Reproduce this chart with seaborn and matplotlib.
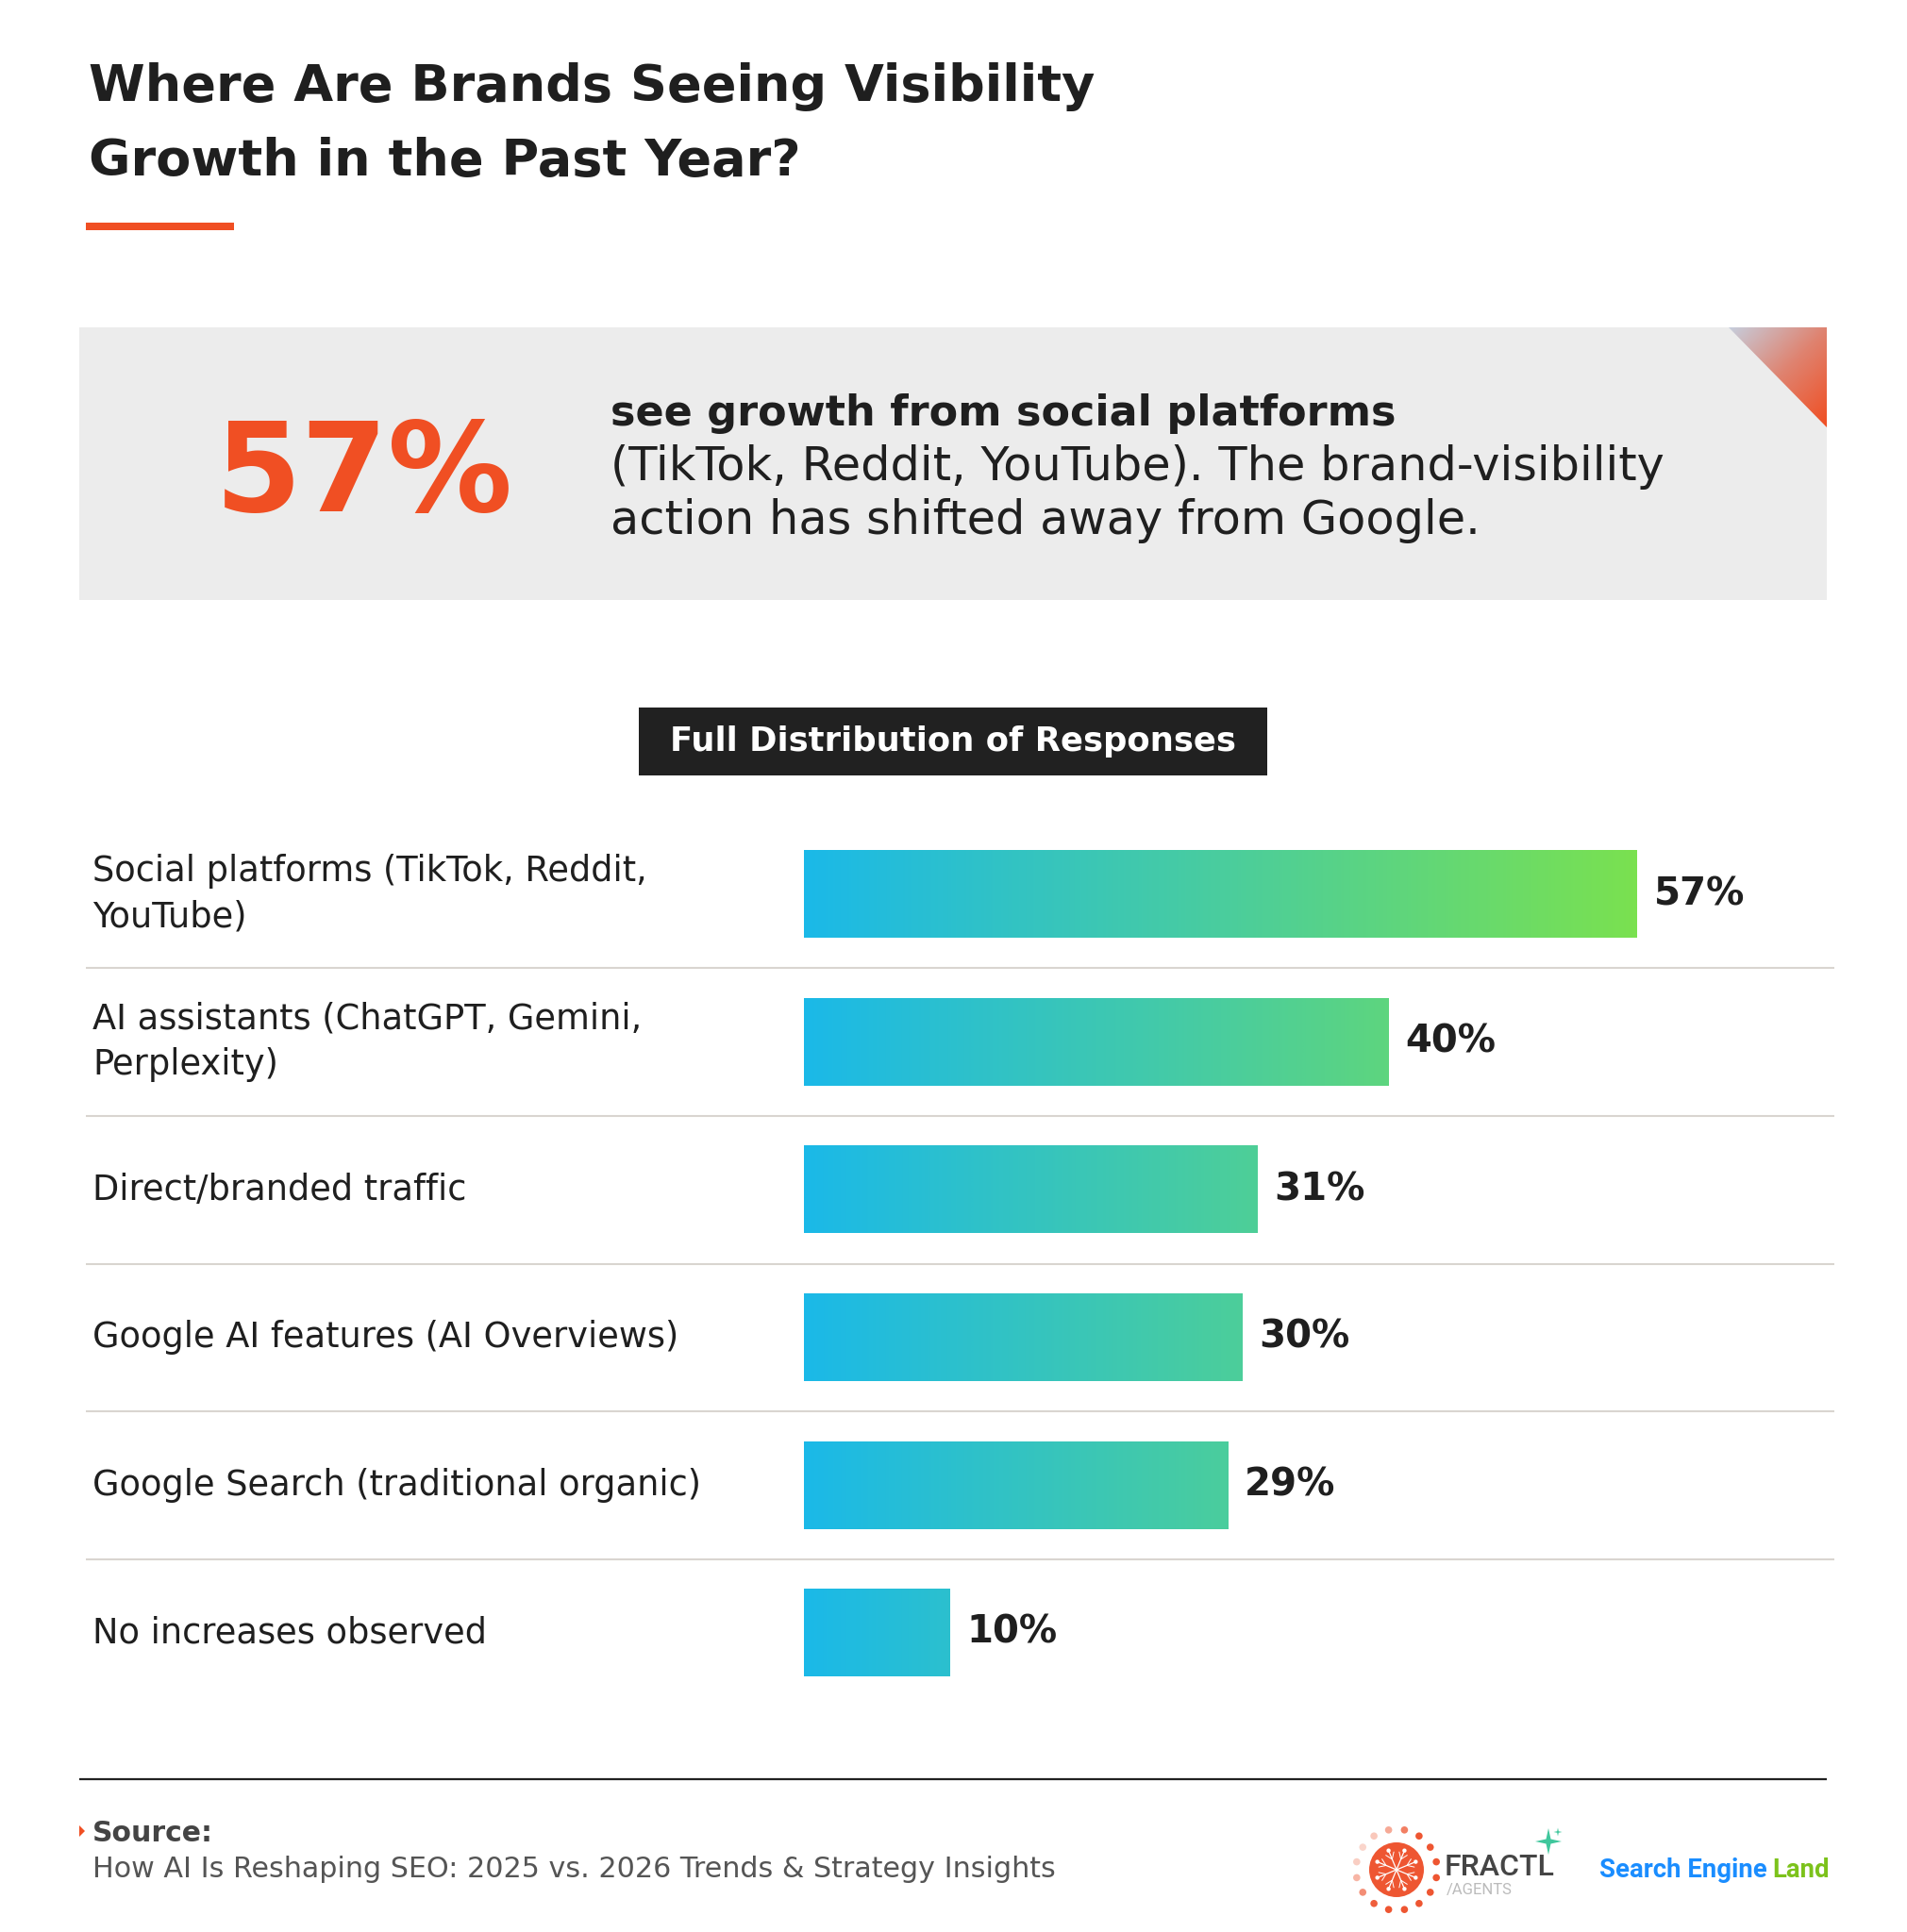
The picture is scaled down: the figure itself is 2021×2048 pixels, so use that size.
import matplotlib
matplotlib.use("Agg")
import matplotlib.pyplot as plt
import numpy as np
import pandas as pd
import seaborn as sns
from matplotlib.colors import LinearSegmentedColormap, to_rgb
from matplotlib.patches import Rectangle, Polygon, Circle

# data
categories = [
    "Social platforms (TikTok, Reddit,\nYouTube)",
    "AI assistants (ChatGPT, Gemini,\nPerplexity)",
    "Direct/branded traffic",
    "Google AI features (AI Overviews)",
    "Google Search (traditional organic)",
    "No increases observed",
]
values = [57, 40, 31, 30, 29, 10]
value_labels = ["57%", "40%", "31%", "30%", "29%", "10%"]

title_lines = ["Where Are Brands Seeing Visibility", "Growth in the Past Year?"]
headline_value = "57%"
headline_bold = "see growth from social platforms"
headline_rest = ["(TikTok, Reddit, YouTube). The brand-visibility",
                 "action has shifted away from Google."]
section_title = "Full Distribution of Responses"
source_title = "Source:"
source_text = "How AI Is Reshaping SEO: 2025 vs. 2026 Trends & Strategy Insights"

W, H = 2021, 2048
DARK = "#1f1f1f"
ORANGE = "#F04F23"
LOGO_FONT = ["Roboto", "DejaVu Sans"]

sns.set_style("white")
plt.rcParams["font.family"] = ["DejaVu Sans"]

fig = plt.figure(figsize=(W / 100, H / 100), dpi=100)
fig.patch.set_facecolor("white")
renderer = fig.canvas.get_renderer()

# decoration layer in pixel units (y down)
deco = fig.add_axes([0, 0, 1, 1])
deco.axis("off")
deco.set_xlim(0, W)
deco.set_ylim(H, 0)

# title
deco.text(94, 107, title_lines[0], fontsize=39, fontweight="bold", color=DARK, va="baseline")
deco.text(94, 186, title_lines[1], fontsize=39, fontweight="bold", color=DARK, va="baseline")
deco.add_patch(Rectangle((91, 236), 157, 8, color=ORANGE, lw=0))

# highlight box
deco.add_patch(Rectangle((84, 347), 1852, 289, color="#ECECEC", lw=0))
tri = Polygon([(1832, 347), (1936, 347), (1936, 453)], closed=True, facecolor="none", edgecolor="none")
deco.add_patch(tri)
xx, yy = np.meshgrid(np.linspace(1832, 1936, 150), np.linspace(347, 453, 150))
tt = ((xx - 1832) + (yy - 347)) / 210.0
corner_cmap = LinearSegmentedColormap.from_list("corner", ["#C6CEDD", "#DF8370", "#F04E22"])
im = deco.imshow(tt, cmap=corner_cmap, extent=(1832, 1936, 453, 347), origin="upper",
                 aspect="auto", interpolation="bilinear", zorder=2)
im.set_clip_path(tri)

deco.text(228, 542, headline_value, fontsize=95, fontweight="bold", color=ORANGE, va="baseline")
deco.text(647, 451, headline_bold, fontsize=32, fontweight="bold", color=DARK, va="baseline")
deco.text(647, 509, headline_rest[0], fontsize=35.6, color=DARK, va="baseline")
deco.text(647, 566, headline_rest[1], fontsize=35.6, color=DARK, va="baseline")

# section header
deco.add_patch(Rectangle((677, 750), 666, 72, color="#212121", lw=0))
deco.text(1010, 786, section_title, fontsize=25.5, fontweight="bold", color="white",
          ha="center", va="center")

# footer
deco.plot([84, 1936], [1886, 1886], color="#222222", lw=1.6, solid_capstyle="butt")
deco.add_patch(Polygon([(84, 1935), (84, 1947), (90, 1941)], closed=True, color=ORANGE, lw=0))
deco.text(98, 1952, source_title, fontsize=21.5, fontweight="bold", color="#444444", va="baseline")
deco.text(98, 1990, source_text, fontsize=21.7, color="#555555", va="baseline")

# fractl logo
cx, cy, r = 1480, 1982, 29
pale, hot = np.array(to_rgb("#FAD5CB")), np.array(to_rgb("#EE5632"))
for k in range(16):
    ang = np.deg2rad(k * 22.5 + 11.25)
    px, py = cx + 43 * np.cos(ang), cy - 43 * np.sin(ang)
    fade = max(0.0, np.cos(ang - np.deg2rad(150)))
    col = hot + (pale - hot) * fade
    deco.add_patch(Circle((px, py), 3.8, color=col, lw=0))
deco.add_patch(Circle((cx, cy), r, color="#EE5632", lw=0))
for k in range(8):
    ang = np.deg2rad(k * 45 + 22.5)
    ex, ey = cx + 22 * np.cos(ang), cy - 22 * np.sin(ang)
    deco.plot([cx, ex], [cy, ey], color="white", lw=0.9)
    deco.add_patch(Circle((ex, ey), 2.2, color="white", lw=0))
    for side in (-1, 1):
        a2 = ang + side * np.deg2rad(35)
        mx, my = cx + 12 * np.cos(ang), cy - 12 * np.sin(ang)
        deco.plot([mx, mx + 8 * np.cos(a2)], [my, my - 8 * np.sin(a2)], color="white", lw=0.7)

deco.text(1531, 1988, "FRACTL", fontsize=23, fontweight="medium", color="#454545",
          va="baseline", family=LOGO_FONT)
deco.text(1533, 2008, "/AGENTS", fontsize=12, color="#BBBBBB", va="baseline", family=LOGO_FONT)


def sparkle(x, y, s, color):
    pts = []
    for k in range(8):
        ang = np.deg2rad(k * 45)
        rad = s if k % 2 == 0 else s * 0.25
        pts.append((x + rad * np.cos(ang), y - rad * np.sin(ang)))
    deco.add_patch(Polygon(pts, closed=True, color=color, lw=0))


sparkle(1641, 1952, 14, "#3FC79C")
sparkle(1651, 1942, 4.5, "#3FC79C")

# search engine land logo: "Land" placed right after the measured blue part
sel_size = 19.8
t1 = deco.text(1695, 1990, "Search Engine", fontsize=sel_size, fontweight="bold", color="#1A8DFF",
               va="baseline", ha="left", family=LOGO_FONT)
w1 = t1.get_window_extent(renderer=renderer).width
deco.text(1695 + w1 + sel_size * 0.3, 1990, "Land", fontsize=sel_size, fontweight="bold",
          color="#7CC21B", va="baseline", ha="left", family=LOGO_FONT)

# bar chart
PX = 15.49
X0 = 852
left, right = 91, 1944
row0, step = 948, 156.6
top = row0 - step / 2
bottom = row0 + (len(categories) - 0.5) * step
ax = fig.add_axes([left / W, 1 - bottom / H, (right - left) / W, (bottom - top) / H])
ax.set_facecolor("none")

df = pd.DataFrame({"category": categories, "value": values})
sns.barplot(data=df, x="value", y="category", orient="h", width=0.59, color="#1CB9E8", ax=ax)

bar_cmap = LinearSegmentedColormap.from_list("bar", ["#1BB9E8", "#4ACD9E", "#7AE150"])
vmax = max(values)
for p in ax.patches:
    x0, y0, w, h = p.get_x(), p.get_y(), p.get_width(), p.get_height()
    ax.imshow(np.linspace(0, w, 300)[None, :], cmap=bar_cmap, vmin=0, vmax=vmax,
              extent=(x0, x0 + w, y0 + h, y0), aspect="auto", interpolation="bilinear", zorder=2)
    p.set_facecolor("none")
    p.set_edgecolor("none")

xmin, xmax = -(X0 - left) / PX, (right - X0) / PX
for i in range(len(categories) - 1):
    ax.plot([xmin, xmax], [i + 0.5, i + 0.5], color="#D9D5D0", lw=1.5, zorder=1)

for i, (lab, v, vl) in enumerate(zip(categories, values, value_labels)):
    ax.text(xmin + 7 / PX, i, lab, fontsize=26.5, color=DARK, va="center", ha="left",
            linespacing=1.4)
    ax.text(v + 18 / PX, i, vl, fontsize=29, fontweight="bold", color=DARK, va="center", ha="left")

ax.set_xlim(xmin, xmax)
ax.set_ylim(len(categories) - 0.5, -0.5)
ax.set_xticks([])
ax.set_yticks([])
ax.set_xlabel("")
ax.set_ylabel("")
sns.despine(ax=ax, left=True, bottom=True)

fig.savefig("out.png", dpi=100, facecolor="white")
